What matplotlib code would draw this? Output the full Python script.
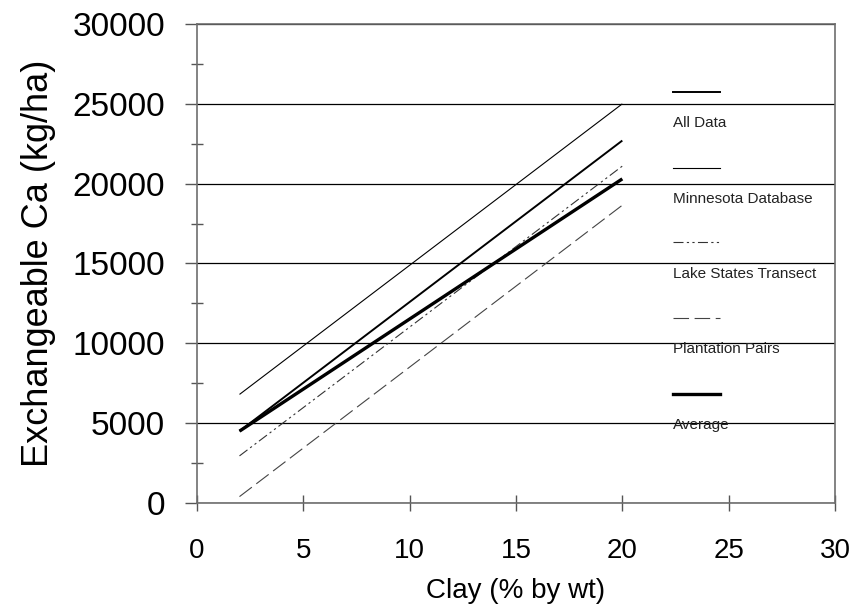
import matplotlib
matplotlib.use("Agg")
import matplotlib.pyplot as plt
from matplotlib.ticker import MultipleLocator

plt.rcParams["font.family"] = ["Liberation Sans", "DejaVu Sans"]

# ── Data (regression lines) ───────────────────────────────────────────────────
clay = [2, 20]
all_data = [4500, 22700]
minnesota = [6800, 25000]
lake_states = [2950, 21100]
plantation = [400, 18650]
average = [4500, 20300]

SERIES = ["All Data", "Minnesota Database", "Lake States Transect",
          "Plantation Pairs", "Average"]
STYLES = [
    dict(color="black", lw=1.4, ls="-"),
    dict(color="black", lw=0.8, ls="-"),
    dict(color="#333333", lw=0.8, ls=(0, (9, 3, 2, 3, 2, 3))),
    dict(color="#444444", lw=0.8, ls=(0, (14, 5))),
    dict(color="black", lw=2.4, ls="-"),
]

fig = plt.figure(figsize=(8.65, 6.14), dpi=100)
ax = fig.add_axes([0.2277, 0.1808, 0.7376, 0.7801])

# gridlines
ax.yaxis.grid(True, color="black", lw=0.9)
ax.set_axisbelow(True)

for vals, st in zip([all_data, minnesota, lake_states, plantation, average], STYLES):
    ax.plot(clay, vals, solid_capstyle="butt", **st)

ax.set_xlim(0, 30)
ax.set_ylim(0, 30000)
ax.xaxis.set_major_locator(MultipleLocator(5))
ax.yaxis.set_major_locator(MultipleLocator(5000))
ax.yaxis.set_minor_locator(MultipleLocator(2500))

for s in ax.spines.values():
    s.set_color("#6e6e6e")
    s.set_linewidth(1.2)

ax.tick_params(axis="x", direction="inout", length=12, width=1, color="#555555",
               labelsize=20, pad=19)
ax.tick_params(axis="y", which="major", direction="out", length=9, width=1,
               color="#555555", labelsize=24, pad=14)
ax.tick_params(axis="y", which="minor", direction="inout", length=8, width=1,
               color="#555555")

ax.set_xlabel("Clay (% by wt)", fontsize=20, labelpad=10)
ax.set_ylabel("Exchangeable Ca (kg/ha)", fontsize=26, labelpad=12)

# legend: sample line above label, stacked down the right side
leg_y = [0.858, 0.700, 0.544, 0.386, 0.228]
for name, st, yy in zip(SERIES, STYLES, leg_y):
    ax.plot([0.746, 0.820], [yy, yy], transform=ax.transAxes, **st)
    ax.text(0.746, yy - 0.065, name, transform=ax.transAxes, fontsize=11,
            ha="left", va="center", color="#222222")

fig.savefig("out.png", dpi=100)
